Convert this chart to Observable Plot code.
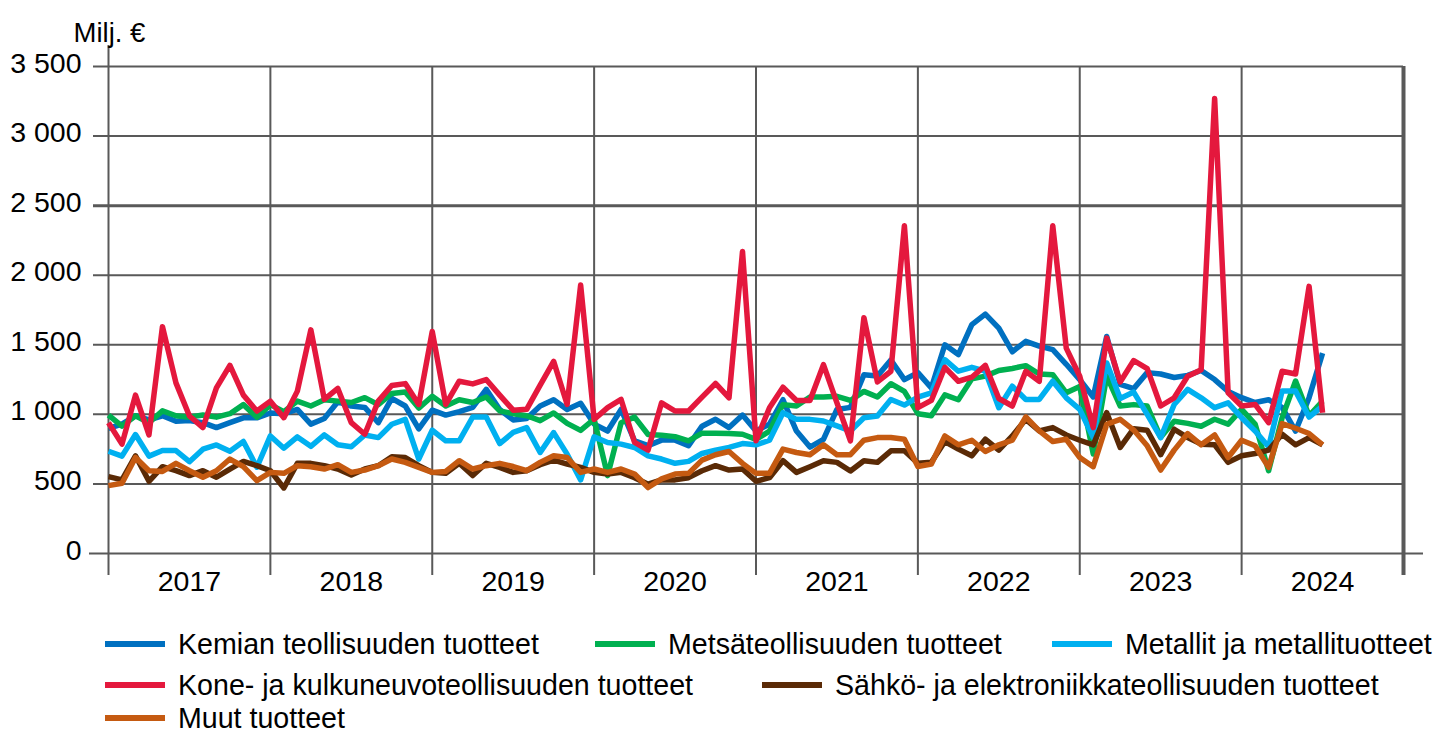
<!DOCTYPE html>
<html><head><meta charset="utf-8">
<script src="https://cdn.jsdelivr.net/npm/d3@7"></script>
<script src="https://cdn.jsdelivr.net/npm/@observablehq/plot@0.6"></script>
<style>
body{margin:0;background:#fff;font-family:"Liberation Sans",Arial,sans-serif;}
#wrap{position:relative;width:1439px;height:734px;}
#chart{position:absolute;left:0;top:0;}
.leg{position:absolute;display:flex;align-items:center;height:22px;line-height:22px;font-size:28.6px;color:#000;white-space:nowrap;}
.sw{width:60px;height:6px;margin-right:13px;}
</style></head><body><div id="wrap"><div id="chart"></div><div id="legend"></div></div>
<script>
// ---- data ----
const startYear = 2017;
const endYear = 2025;
const yearLabels = [2017, 2018, 2019, 2020, 2021, 2022, 2023, 2024];
const yTicks = [0, 500, 1000, 1500, 2000, 2500, 3000, 3500];
const unitLabel = "Milj. €";
const seriesNames = [
  "Kemian teollisuuden tuotteet",
  "Metsäteollisuuden tuotteet",
  "Metallit ja metallituotteet",
  "Kone- ja kulkuneuvoteollisuuden tuotteet",
  "Sähkö- ja elektroniikkateollisuuden tuotteet",
  "Muut tuotteet"
];
const kemia = [900,930,990,960,990,950,955,940,905,940,975,975,1010,1005,1035,930,970,1090,1060,1050,940,1115,1060,895,1030,995,1020,1050,1180,1035,960,970,1060,1105,1035,1080,930,880,1035,810,775,815,815,775,915,965,905,995,880,930,1105,880,765,820,1035,1050,1285,1275,1390,1250,1300,1190,1500,1430,1645,1720,1620,1450,1525,1490,1465,1360,1250,1125,1560,1215,1185,1300,1290,1265,1280,1315,1250,1165,1120,1085,1105,1050,880,1120,1440];
const metsa = [995,915,990,940,1025,990,980,995,980,1005,1070,980,1070,1020,1095,1060,1105,1095,1085,1120,1070,1150,1160,1045,1130,1060,1105,1085,1125,1025,1005,990,955,1010,935,885,965,560,940,980,855,850,840,810,865,865,862,857,820,880,1070,1060,1125,1125,1130,1100,1165,1125,1220,1165,1005,990,1140,1105,1255,1275,1315,1330,1350,1290,1285,1155,1200,715,1275,1060,1070,1060,835,950,935,915,965,930,1035,930,595,975,1240,990,1095];
const metalli = [735,700,855,700,740,740,660,750,780,735,805,620,845,757,838,770,852,781,767,852,833,929,964,679,886,810,810,981,981,790,870,905,726,869,714,529,838,798,786,762,702,679,648,662,719,743,762,790,781,814,1012,964,964,952,917,881,976,988,1107,1067,1124,1155,1393,1310,1338,1310,1048,1202,1107,1107,1238,1119,1036,833,1369,1114,1160,1000,833,1071,1179,1119,1048,1083,976,881,767,1167,1167,981,1060];
const kone = [940,786,1138,852,1630,1226,988,905,1190,1352,1138,1024,1095,976,1167,1607,1107,1186,940,857,1095,1207,1221,1071,1595,1071,1238,1219,1250,1138,1030,1036,1210,1381,1071,1930,964,1048,1107,798,743,1083,1024,1024,1124,1222,1119,2170,810,1048,1195,1100,1100,1357,1083,810,1695,1233,1310,2355,1048,1100,1338,1238,1267,1352,1114,1060,1310,1238,2355,1476,1274,905,1548,1233,1387,1329,1060,1119,1274,1321,3270,1155,1060,1071,940,1310,1290,1920,1012];
const sahko = [552,529,702,519,624,595,560,595,548,607,662,631,595,471,648,648,631,607,564,607,631,695,690,631,583,576,648,560,648,619,583,595,638,671,643,619,583,571,583,545,498,529,529,545,595,631,600,607,519,545,667,583,624,667,655,593,667,655,738,738,648,655,805,750,702,821,743,845,964,881,905,852,814,781,1012,762,897,886,710,893,833,786,781,655,702,719,743,857,781,833,781];
const muut = [488,505,690,595,590,648,595,548,595,679,624,524,583,576,631,624,607,638,583,600,631,679,655,619,583,590,667,607,631,648,625,595,655,702,690,583,607,583,607,571,474,536,571,576,671,710,733,648,576,576,750,726,710,781,710,710,814,833,833,821,625,643,845,781,814,733,781,814,981,881,805,821,690,624,929,964,887,774,600,743,862,781,852,690,814,774,619,933,900,862,781];
const seriesValues = [kemia, metsa, metalli, kone, sahko, muut];

// ---- styles ----
const colors = ["#0070c0", "#00b050", "#00b0f0", "#e4183d", "#5a2a06", "#c55a11"];
const gridColor = "#595959";
const font = "Liberation Sans, Arial, sans-serif";
const tickFont = 28.5;

const rows = [];
seriesNames.forEach((name, s) => {
  seriesValues[s].forEach((v, i) => rows.push({series: name, t: startYear + i / 12, value: v}));
});

const fmt = d3.formatLocale({decimal: ",", thousands: " ", grouping: [3], currency: ["", " €"]}).format(",");

const chart = Plot.plot({
  width: 1439,
  height: 610,
  marginLeft: 108,
  marginRight: 36,
  marginTop: 66,
  marginBottom: 57,
  style: {fontFamily: font, fontSize: tickFont + "px", color: "#000", background: "#fff", overflow: "visible"},
  x: {domain: [startYear, endYear], label: null},
  y: {domain: [0, 3500], label: null},
  color: {domain: seriesNames, range: colors},
  marks: [
    Plot.ruleY(yTicks.filter(d => d > 0), {y: d => d, stroke: gridColor, strokeWidth: d => d === 2500 ? 3 : 2, insetLeft: -15}),
    Plot.ruleX(yearLabels.slice(1), {x: d => d, y1: 3500, y2: 0, stroke: gridColor, strokeWidth: 2, insetBottom: -22}),
    Plot.ruleX([startYear], {x: d => d, y1: 3500, y2: 0, stroke: gridColor, strokeWidth: 2, insetBottom: -22, insetTop: -21}),
    Plot.ruleX([endYear], {x: d => d, y1: 3500, y2: 0, stroke: gridColor, strokeWidth: 4, insetBottom: -22}),
    Plot.ruleY([0], {y: d => d, stroke: gridColor, strokeWidth: 2, insetLeft: -19, insetRight: -20}),
    Plot.axisY(yTicks, {tickSize: 0, tickPadding: 27, tickFormat: fmt, fontSize: tickFont, dy: -3, label: null}),
    Plot.axisX(yearLabels.map(d => d + 0.5), {tickSize: 0, tickPadding: 17, tickFormat: d => String(Math.floor(d)), fontSize: tickFont, label: null}),
    Plot.line(rows, {x: "t", y: "value", z: "series", stroke: "series", strokeWidth: 5.5, strokeLinejoin: "round", strokeLinecap: "butt"}),
    Plot.text([unitLabel], {text: d => d, frameAnchor: "top-left", dx: -35, dy: -44, textAnchor: "start", fontSize: 27.5})
  ]
});
document.getElementById("chart").appendChild(chart);

// ---- legend (HTML) ----
const legendLayout = [
  {left: 105, top: 644}, {left: 595, top: 644}, {left: 1052, top: 644},
  {left: 105, top: 685}, {left: 762, top: 685},
  {left: 105, top: 718}
];
const legend = document.getElementById("legend");
seriesNames.forEach((name, i) => {
  const item = document.createElement("div");
  item.className = "leg";
  item.style.left = legendLayout[i].left + "px";
  item.style.top = (legendLayout[i].top - 11) + "px";
  const sw = document.createElement("span");
  sw.className = "sw";
  sw.style.background = colors[i];
  const tx = document.createElement("span");
  tx.textContent = name;
  item.appendChild(sw);
  item.appendChild(tx);
  legend.appendChild(item);
});
</script>
</body></html>
